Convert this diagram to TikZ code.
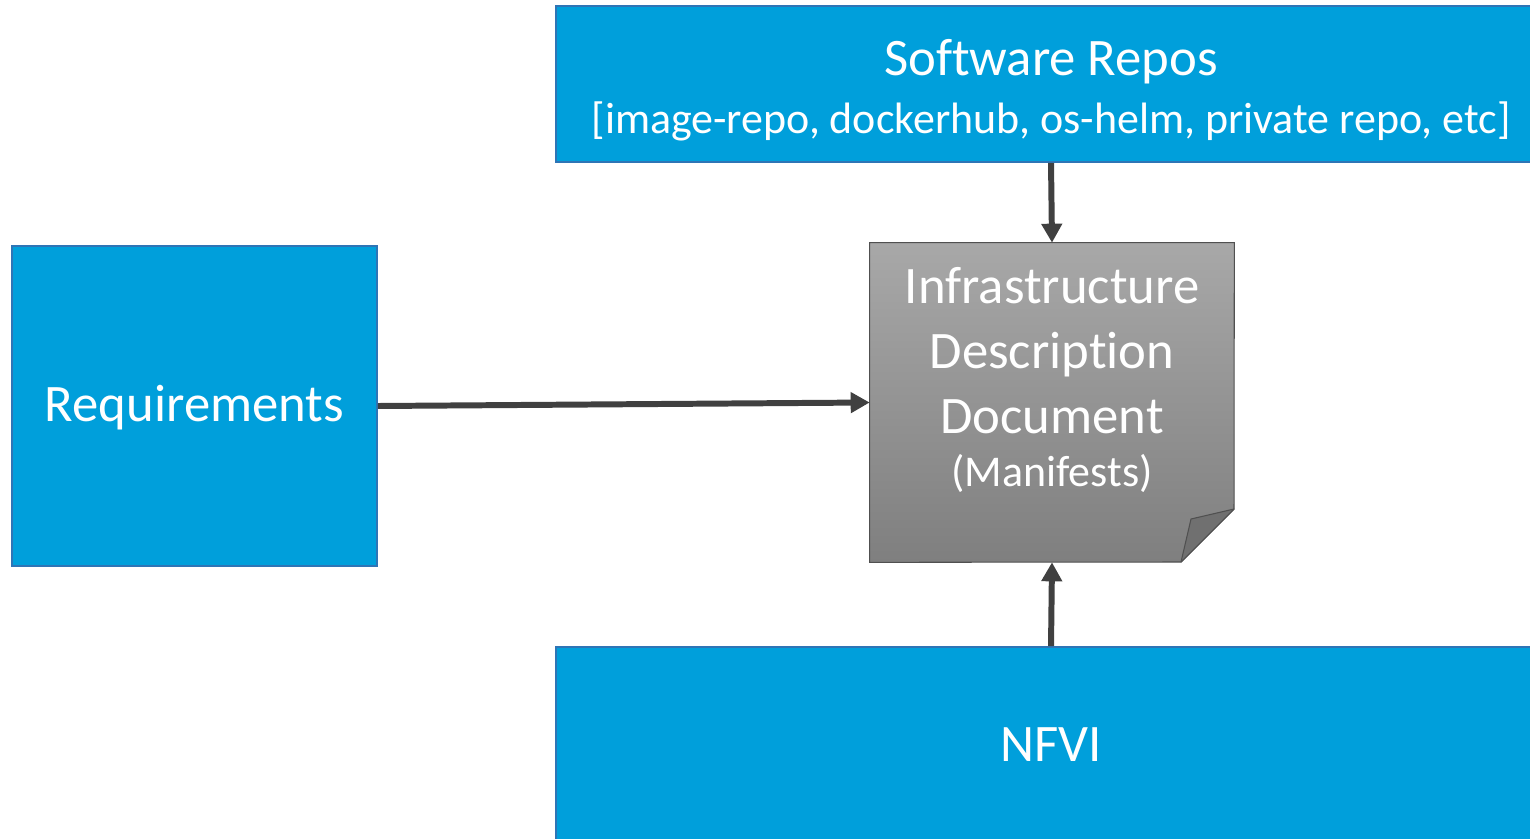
\documentclass[tikz,border=0pt]{standalone}
\usepackage{fontspec}
\setmainfont{Carlito}[Ligatures=CommonOff]
\usetikzlibrary{arrows.meta}
\definecolor{boxblue}{HTML}{009FDB}
\definecolor{boxedge}{HTML}{2E75B6}
\definecolor{arr}{HTML}{404040}
\definecolor{doctop}{HTML}{A8A8A8}
\definecolor{docbot}{HTML}{7F7F7F}
\definecolor{docedge}{HTML}{505050}
\definecolor{foldfill}{HTML}{707070}
\tikzset{
  bluebox/.style={draw=boxedge, line width=1pt, fill=boxblue, text=white, inner sep=0pt},
  bigtxt/.style={font=\fontsize{30}{36}\selectfont},
  conn/.style={draw=arr, line width=3.4pt, -{Triangle[length=0.38cm,width=0.4cm]}},
}
\begin{document}
\begin{tikzpicture}[x=0.02cm,y=-0.02cm]
\useasboundingbox (0,0) rectangle (1530,838);
\clip (0,0) rectangle (1530,838);
\fill[white] (0,0) rectangle (1530,838);
\node[bluebox, minimum width=19.8cm, minimum height=3.12cm] (repos) at (1051,84) {};
\node[text=white, align=center, bigtxt, inner sep=0pt] (repostext) at (1051,90)
  {Software Repos\\[-3pt]{\fontsize{25}{30}\selectfont[image-repo, dockerhub, os-helm, private repo, etc]}};
\node[bluebox, minimum width=7.3cm, minimum height=6.4cm] (req) at (194.5,406) {};
\node[text=white, bigtxt, inner sep=0pt] (reqtext) at (194.5,408) {Requirements};
\node[bluebox, minimum width=19.8cm, minimum height=3.92cm, bigtxt] (nfvi) at (1051,745) {NFVI};
\node[minimum width=7.28cm, minimum height=6.38cm, inner sep=0pt] (doc) at (1052,402.5) {};
\shade[top color=doctop, bottom color=docbot, draw=docedge, line width=0.6pt]
  (doc.north west) -- (doc.north east) -- (1234,509) -- (1181,562) -- (doc.south west) -- cycle;
\filldraw[fill=foldfill, draw=docedge, line width=0.6pt, line join=round]
  (1234,509) -- (1191,519) -- (1181,562) -- cycle;
\node[text=white, align=center, bigtxt] (doctext) at (1052,380)
  {Infrastructure\\[1pt]Description\\[1pt]Document\\[-6pt]{\fontsize{25}{30}\selectfont(Manifests)}};
\draw[conn] (repos.south) -- (doc.north);
\draw[conn] (req.east) -- (doc.west);
\draw[conn] (nfvi.north) -- (doc.south);
\end{tikzpicture}
\end{document}
